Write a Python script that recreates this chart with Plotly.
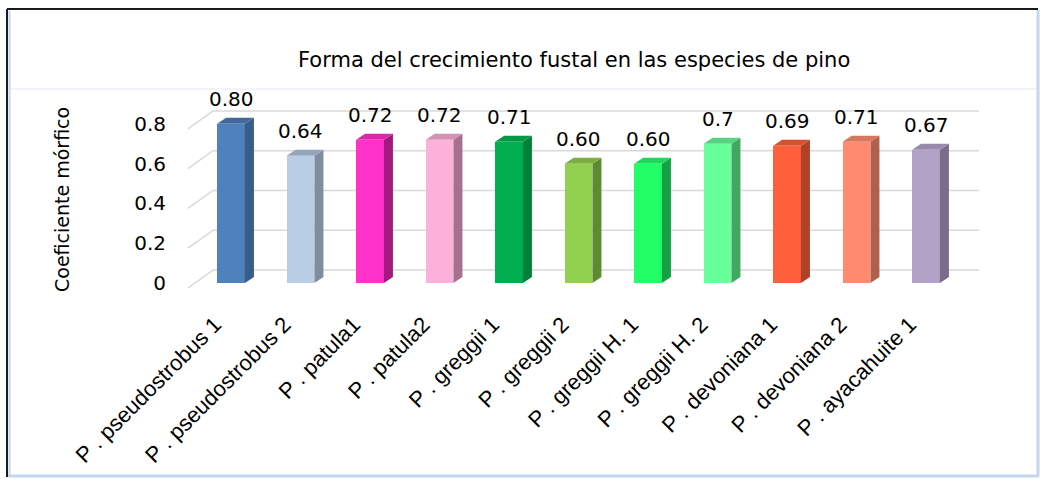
import plotly.graph_objects as go

# --- data -------------------------------------------------------------
species = [
    "P . pseudostrobus 1", "P . pseudostrobus 2", "P . patula1", "P . patula2",
    "P . greggii 1", "P . greggii 2", "P . greggii H. 1", "P . greggii H. 2",
    "P . devoniana 1", "P . devoniana 2", "P . ayacahuite 1",
]
coef_morfico = [0.80, 0.64, 0.72, 0.72, 0.71, 0.60, 0.60, 0.70, 0.69, 0.71, 0.67]
label_decimals = [2, 2, 2, 2, 2, 2, 2, 1, 2, 2, 2]
y_ticks = [0, 0.2, 0.4, 0.6, 0.8]
y_ticktext = ["0", "0.2", "0.4", "0.6", "0.8"]

front_colors = ["#4F81BD", "#B9CDE5", "#FF33CC", "#FDB0D8", "#00B050", "#92D050",
                "#22FF66", "#66FF99", "#FF5F3A", "#FF8A6E", "#B3A2C7"]
side_colors = ["#385D8A", "#7E8DA0", "#A3197F", "#A87090", "#00803A", "#5E8A30",
               "#16A045", "#40A862", "#B04126", "#B0604C", "#7A6D8C"]
top_colors = ["#41699C", "#93A5BA", "#D62AAB", "#D592B3", "#009A45", "#7BAF42",
              "#1ED857", "#55D47F", "#D84F30", "#D9765E", "#978AAA"]

# --- geometry -----------------------------------------------------------
W, H = 1042, 479
L, R, T, B = 190, 985, 89, 288          # plot area in pixels
X_RANGE = [-0.59, 10.849]
Y_RANGE = [-0.025, 0.975]
BAR_W = 0.40                           # front face width (x units)
DEPTH_X = 0.13                         # 3D depth offset (x units)
DEPTH_Y = 0.03                         # 3D depth offset (y units)
GRID_SHIFT = 0.065                     # back wall lies above the front plane
FLOOR_SHIFT = -0.025


def px(xp):
    return (xp - L) / (R - L)


def py(yp):
    return (B - yp) / (B - T)


xs = list(range(len(species)))

fig = go.Figure()

# front faces
fig.add_trace(go.Bar(
    x=xs, y=coef_morfico, width=BAR_W,
    marker=dict(color=front_colors, line=dict(width=0)),
    hoverinfo="skip", showlegend=False,
))

# side and top faces of each prism
for x, v, sc, tc in zip(xs, coef_morfico, side_colors, top_colors):
    r = x + BAR_W / 2
    side_x = [r, r + DEPTH_X, r + DEPTH_X, r, r]
    side_y = [0, DEPTH_Y, v + DEPTH_Y, v, 0]
    fig.add_trace(go.Scatter(
        x=side_x, y=side_y, mode="lines", fill="toself", fillcolor=sc,
        line=dict(width=0, color=sc), hoverinfo="skip", showlegend=False,
    ))
    l = x - BAR_W / 2
    top_x = [l, r, r + DEPTH_X, l + DEPTH_X, l]
    top_y = [v, v, v + DEPTH_Y, v + DEPTH_Y, v]
    fig.add_trace(go.Scatter(
        x=top_x, y=top_y, mode="lines", fill="toself", fillcolor=tc,
        line=dict(width=0, color=tc), hoverinfo="skip", showlegend=False,
    ))

# value labels
for x, v, d in zip(xs, coef_morfico, label_decimals):
    fig.add_annotation(
        x=x, y=v, text=f"{v:.{d}f}", showarrow=False, yshift=25,
        xanchor="center", yanchor="middle",
        font=dict(family="DejaVu Sans", size=20, color="#000000"),
    )

shapes = []
# back-wall gridlines and the diagonal floor/wall edges on the left
for t in y_ticks:
    shapes.append(dict(type="line", xref="paper", yref="y",
                       x0=px(213), x1=px(979), y0=t + GRID_SHIFT, y1=t + GRID_SHIFT,
                       line=dict(color="#D9D9D9", width=1.5), layer="below"))
    shapes.append(dict(type="line", xref="paper", yref="y",
                       x0=px(188), x1=px(213), y0=t + FLOOR_SHIFT, y1=t + GRID_SHIFT,
                       line=dict(color="#D9D9D9", width=1.5), layer="below"))

# faint inner chart-area edge
shapes.append(dict(type="line", xref="paper", yref="paper",
                   x0=px(10), x1=px(1037), y0=py(89), y1=py(89),
                   line=dict(color="#EEF0F8", width=1.5), layer="below"))

# outer frame: dark top/left, light blue bottom/right
shapes += [
    dict(type="line", xref="paper", yref="paper", x0=px(7), x1=px(1038), y0=py(9), y1=py(9),
         line=dict(color="#1A1A1A", width=2)),
    dict(type="line", xref="paper", yref="paper", x0=px(7), x1=px(7), y0=py(9), y1=py(477),
         line=dict(color="#1A1A1A", width=2)),
    dict(type="line", xref="paper", yref="paper", x0=px(9.5), x1=px(9.5), y0=py(11), y1=py(476),
         line=dict(color="#C6D6EC", width=2)),
    dict(type="line", xref="paper", yref="paper", x0=px(1038), x1=px(1038), y0=py(10), y1=py(476),
         line=dict(color="#C6D6EC", width=3)),
    dict(type="line", xref="paper", yref="paper", x0=px(8), x1=px(1039), y0=py(476), y1=py(476),
         line=dict(color="#C6D6EC", width=3)),
]

# chart title and y-axis title
fig.add_annotation(
    xref="paper", yref="paper", x=px(574), y=py(60), showarrow=False,
    text="Forma del crecimiento fustal en las especies de pino",
    xanchor="center", yanchor="middle",
    font=dict(family="DejaVu Sans", size=21, color="#000000"),
)
fig.add_annotation(
    xref="paper", yref="paper", x=px(62), y=py(200), showarrow=False,
    text="Coeficiente mórfico", textangle=-90,
    xanchor="center", yanchor="middle",
    font=dict(family="DejaVu Sans", size=19, color="#000000"),
)

fig.update_layout(
    width=W, height=H,
    margin=dict(l=L, r=W - R, t=T, b=H - B, pad=0),
    paper_bgcolor="white", plot_bgcolor="rgba(0,0,0,0)",
    shapes=shapes, bargap=0, showlegend=False,
    xaxis=dict(
        range=X_RANGE, tickmode="array", tickvals=xs, ticktext=species,
        tickangle=-45, showgrid=False, zeroline=False, showline=False,
        ticks="outside", ticklen=14, tickcolor="rgba(0,0,0,0)",
        ticklabelshift=-16,
        tickfont=dict(family="Liberation Sans", size=22, color="#000000"),
        fixedrange=True,
    ),
    yaxis=dict(
        range=Y_RANGE, tickmode="array", tickvals=y_ticks, ticktext=y_ticktext,
        showgrid=False, zeroline=False, showline=False,
        ticklabelstandoff=23,
        tickfont=dict(family="DejaVu Sans", size=20, color="#000000"),
        fixedrange=True,
    ),
)

fig.write_html("out.html", config={"displayModeBar": False})
